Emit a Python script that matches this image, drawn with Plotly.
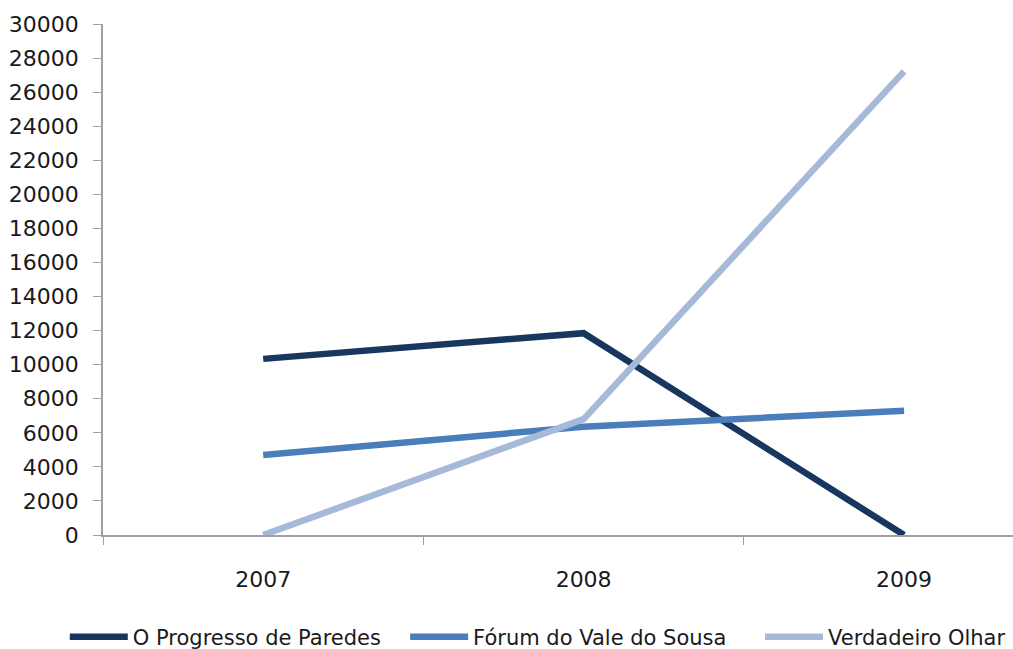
import plotly.graph_objects as go

years = ["2007", "2008", "2009"]
progresso = [10340, 11850, 0]
forum = [4700, 6360, 7290]
verdadeiro = [0, 6800, 27220]
y_ticks = list(range(0, 30001, 2000))
y_labels = [str(v) for v in y_ticks]

fig = go.Figure()
series = [
    ("O Progresso de Paredes", progresso, "#17375E", "legend", -0.042),
    ("Fórum do Vale do Sousa", forum, "#4A7EBB", "legend2", 0.332),
    ("Verdadeiro Olhar", verdadeiro, "#A7B9D8", "legend3", 0.722),
]
legend_cfg = {}
for name, vals, col, lg, lx in series:
    fig.add_trace(go.Scatter(x=years, y=vals, name=name, mode="lines", legend=lg,
                             line=dict(color=col, width=6.5)))
    legend_cfg[lg] = dict(orientation="h", x=lx, xanchor="left", y=-0.2, yanchor="middle",
                          font=dict(size=21), itemwidth=58, bgcolor="rgba(0,0,0,0)")

fig.update_layout(
    width=1013, height=649,
    margin=dict(l=103, r=0, t=24, b=114, autoexpand=False),
    paper_bgcolor="white", plot_bgcolor="white",
    font=dict(family="DejaVu Sans", size=22, color="#1a1a1a"),
    showlegend=True,
    **legend_cfg,
)
fig.update_xaxes(type="category", range=[-0.5, 2.34], showline=True, linecolor="#a0a0a0",
                 linewidth=1.5, ticks="outside", tickson="boundaries", ticklen=8,
                 tickcolor="#a0a0a0", showgrid=False, zeroline=False,
                 ticklabelstandoff=24)
fig.update_yaxes(range=[0, 30000], tickvals=y_ticks, ticktext=y_labels, showline=True,
                 linecolor="#a0a0a0", linewidth=1.5, ticks="outside", ticklen=8,
                 tickcolor="#a0a0a0", showgrid=False, zeroline=False, ticklabelstandoff=10)

fig.write_html("out.html")
